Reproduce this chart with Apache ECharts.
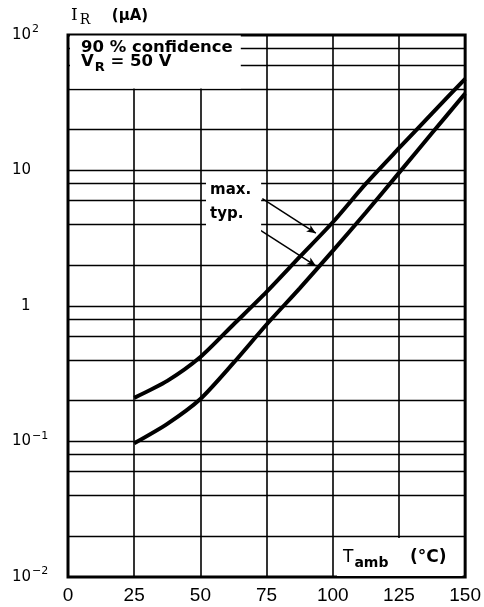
<!DOCTYPE html>
<html><head><meta charset="utf-8">
<script src="https://cdn.jsdelivr.net/npm/echarts@6/dist/echarts.min.js"></script>
<style>html,body{margin:0;padding:0;background:#fff}#c{width:484px;height:607px}</style>
</head><body><div id="c"></div>
<script>
// ---- data ----
const temps = [25, 37.5, 50, 62.5, 75, 87.5, 100, 112.5, 125, 137.5, 150];
const irMax = [0.21, 0.28, 0.42, 0.73, 1.27, 2.3, 4.15, 8.0, 14.6, 26.4, 47.5];
const irTyp = [0.097, 0.135, 0.206, 0.38, 0.73, 1.35, 2.55, 4.9, 9.6, 18.9, 37];
const xTickLabels = ['0', '25', '50', '75', '100', '125', '150'];
const yTickExponents = [-2, -1, 0, 1, 2];
const yTickLabels = ['10{s|−2}', '10{s|−1}', '{p|1}', '10', '10{s|2}'];
const hGridValues = [0.02, 0.04, 0.06, 0.08, 0.1, 0.2, 0.4, 0.6, 0.8, 1, 2, 4, 6, 8, 10, 20, 40, 60, 80];
const maxLeader = [[73.4, 6.2], [93.6, 3.45]];
const typLeader = [[69.2, 4.0], [93.6, 1.98]];

const chart = echarts.init(document.getElementById('c'));
const FONT = 'Liberation Sans';

function pairs(ys) { return temps.map((t, i) => [t, ys[i]]); }

chart.setOption({
  animation: false,
  backgroundColor: '#fff',
  grid: { left: 68, right: 17, top: 35, bottom: 30, show: true, borderColor: '#000', borderWidth: 3, backgroundColor: 'transparent' },
  title: [
    {
      text: 'I{sub|R}    {u|(µA)}', left: 71, top: 5, padding: 0,
      textStyle: { fontFamily: 'DejaVu Serif', fontSize: 17, fontWeight: 'normal', color: '#000', lineHeight: 22,
        rich: { sub: { fontFamily: 'DejaVu Serif', fontSize: 14, color: '#000', padding: [9, 0, 0, 2], lineHeight: 22 },
                u: { fontFamily: 'DejaVu Sans', fontSize: 15, fontWeight: 'bold', color: '#000', lineHeight: 22 } } }
    },
    {
      text: '90 % confidence\nV{sub|R} = 50 V', left: 70, top: 37,
      backgroundColor: '#fff', padding: [4, 8, 14, 11],
      textStyle: { fontFamily: 'DejaVu Sans', fontSize: 16.5, fontWeight: 'bold', color: '#000', lineHeight: 14,
        rich: { sub: { fontFamily: 'DejaVu Sans', fontSize: 13, fontWeight: 'bold', color: '#000', padding: [12, 0, 0, 1], lineHeight: 14 } } }
    },
    {
      text: 'max.\ntyp.', left: 206, top: 174, backgroundColor: '#fff', padding: [4, 10, 6, 4],
      textStyle: { fontFamily: 'DejaVu Sans', fontSize: 15, fontWeight: 'bold', color: '#000', lineHeight: 24 }
    },
    {
      text: 'T{sub|amb}    {b|(°C)}', left: 337, top: 540, backgroundColor: '#fff', padding: [8, 16, 6, 6],
      textStyle: { fontFamily: 'DejaVu Sans', fontSize: 17, fontWeight: 'normal', color: '#000', lineHeight: 20,
        rich: { sub: { fontFamily: 'DejaVu Sans', fontSize: 14, fontWeight: 'bold', color: '#000', padding: [10, 0, 0, 1], lineHeight: 20 },
                b: { fontFamily: 'DejaVu Sans', fontSize: 17, fontWeight: 'bold', color: '#000', lineHeight: 20 } } }
    }
  ],
  xAxis: {
    type: 'value', min: 0, max: 150, interval: 25,
    axisLine: { show: false }, axisTick: { show: false },
    axisLabel: { margin: 9, fontFamily: FONT, fontSize: 19, color: '#000',
      formatter: v => xTickLabels[Math.round(v / 25)] },
    splitLine: { show: true, lineStyle: { color: '#000', width: 1.6 } }
  },
  yAxis: {
    type: 'log', logBase: 10, min: 0.01, max: 100,
    axisLine: { show: false }, axisTick: { show: false },
    splitLine: { show: false },
    axisLabel: {
      align: 'left', margin: 56, fontFamily: 'DejaVu Sans', fontSize: 15, color: '#000', lineHeight: 18,
      showMinLabel: true, showMaxLabel: true,
      formatter: v => {
        const e = Math.round(Math.log10(v));
        const i = yTickExponents.indexOf(e);
        return i >= 0 ? yTickLabels[i] : '';
      },
      rich: {
        s: { fontFamily: 'DejaVu Sans', fontSize: 11, color: '#000', padding: [0, 0, 11, 1], lineHeight: 18 },
        p: { fontFamily: 'DejaVu Sans', fontSize: 15, color: '#000', padding: [0, 0, 0, 9], lineHeight: 18 }
      }
    }
  },
  series: [
    {
      name: 'max.', type: 'line', data: pairs(irMax), smooth: 0.25, symbol: 'none',
      lineStyle: { color: '#000', width: 4 }, z: 3,
      markLine: {
        silent: true, symbol: 'none', label: { show: false }, animation: false,
        lineStyle: { color: '#000', width: 1.3, type: 'solid' },
        data: hGridValues.map(v => ({ yAxis: v }))
      }
    },
    {
      name: 'typ.', type: 'line', data: pairs(irTyp), smooth: 0.25, symbol: 'none',
      lineStyle: { color: '#000', width: 4 }, z: 3,
      markLine: {
        silent: true, symbol: ['none', 'arrow'], symbolSize: [6, 9], label: { show: false }, animation: false,
        lineStyle: { color: '#000', width: 1.5, type: 'solid' },
        data: [
          [{ coord: maxLeader[0] }, { coord: maxLeader[1] }],
          [{ coord: typLeader[0] }, { coord: typLeader[1] }]
        ]
      }
    }
  ]
});
</script></body></html>
